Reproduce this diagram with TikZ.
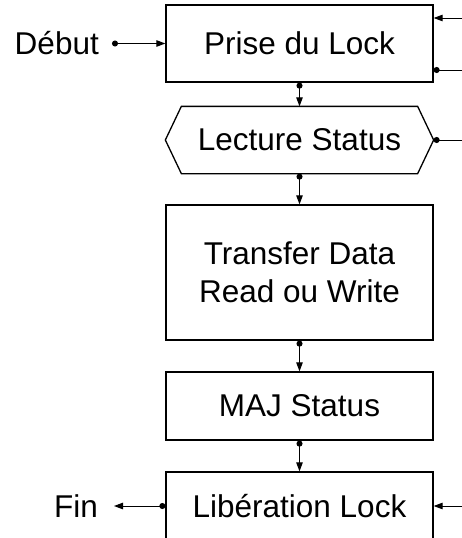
\documentclass[tikz,border=0pt]{standalone}
\usepackage{fontspec}
\setmainfont{Liberation Sans}
\usetikzlibrary{arrows.meta}
\begin{document}
\begin{tikzpicture}[x=1pt,y=-1pt,
  txt/.style={font=\fontsize{31.5}{38}\selectfont},
  box/.style={txt, draw, line width=1.3pt, minimum width=267pt, inner sep=0pt, align=center},
  lbl/.style={txt, inner sep=0pt},
  tip/.tip={Triangle[length=9pt,width=6.5pt]},
  dot/.tip={Circle[length=6pt]},
  flow/.style={line width=1pt, -tip},
  dotflow/.style={line width=1pt, dot-tip},
  dotline/.style={line width=1pt, dot-}]
\useasboundingbox (0,0) rectangle (462,538);
\clip (0,0) rectangle (462,538);

% process steps
\node[box, minimum height=77pt] (prise) at (299.5,43.5) {Prise du Lock};
\node[box, draw=none, minimum height=66pt] (hex) at (299.5,140) {Lecture Status};
\node[box, minimum height=135pt] (transfer) at (299.5,272.5) {Transfer Data\\Read ou Write};
\node[box, minimum height=68pt] (maj) at (299.5,406) {MAJ Status};
\node[box, minimum height=68pt] (lib) at (299.5,506) {Libération Lock};

% hexagonal outline of the status read
\draw[line width=1.3pt] (hex.west) -- ([xshift=16pt]hex.north west) -- ([xshift=-16pt]hex.north east)
  -- (hex.east) -- ([xshift=-16pt]hex.south east) -- ([xshift=16pt]hex.south west) -- cycle;

% entry and exit labels
\node[lbl, anchor=east] (debut) at (99,43.5) {Début};
\node[lbl, anchor=east] (fin) at (98,506) {Fin};

% free ends on the right border
\coordinate (inTop) at (462,18);
\coordinate (outTop) at (462,70);
\coordinate (outHex) at (462,140);
\coordinate (inLib) at (462,506);

% main flow
\draw[dotflow] ([xshift=13pt]debut.east) -- (prise.west);
\draw[dotflow] (prise.south) -- (hex.south |- hex.north);
\draw[dotflow] (hex.south) -- (transfer.north);
\draw[dotflow] (transfer.south) -- (maj.north);
\draw[dotflow] (maj.south) -- (lib.north);
\draw[dotflow] (lib.west) -- ([xshift=16pt]fin.east);

% side connections
\draw[flow] (inTop) -- (inTop -| prise.east);
\draw[dotline] (outTop -| prise.east) -- (outTop);
\draw[dotline] (hex.east) -- (outHex);
\draw[flow] (inLib) -- (lib.east);
\end{tikzpicture}
\end{document}
